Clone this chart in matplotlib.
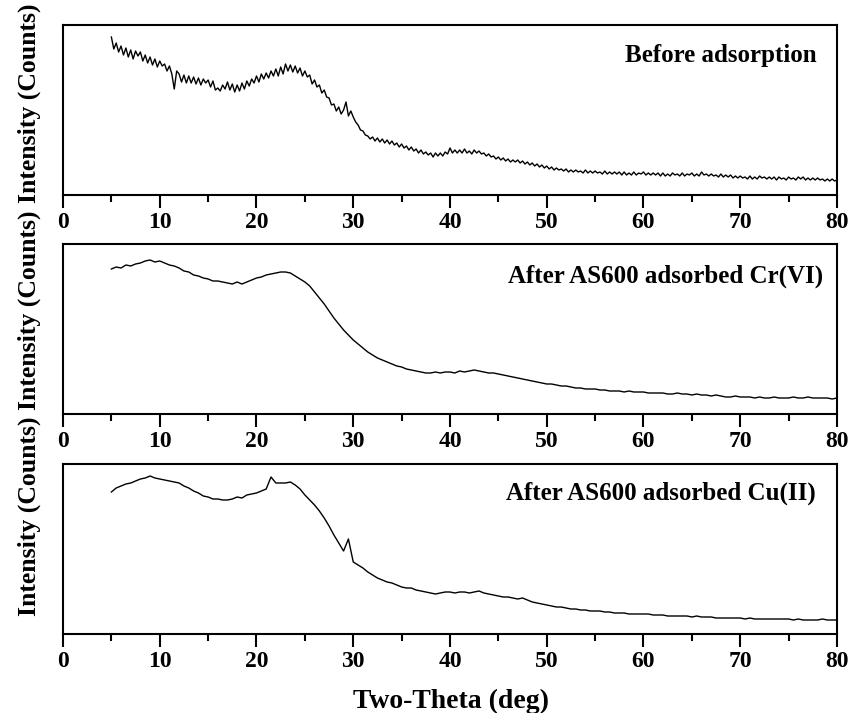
import numpy as np
import matplotlib
matplotlib.use("Agg")
import matplotlib.pyplot as plt
from matplotlib.ticker import MultipleLocator

plt.rcParams["font.family"] = ["Liberation Serif", "DejaVu Serif"]
plt.rcParams["font.weight"] = "bold"

# intensity (arbitrary units, axis spans 0..170)
two_theta_fine = np.linspace(5, 80, 301)   # 0.25 deg steps
two_theta = np.linspace(5, 80, 151)        # 0.5 deg steps

before = [
    158, 146, 152, 143, 149, 140, 147, 138, 145, 136, 144, 139, 143, 134, 140, 132,
    138, 130, 136, 128, 134, 129, 131, 124, 129, 121, 106, 124, 121, 113, 120, 112,
    119, 112, 118, 111, 117, 110, 116, 112, 115, 108, 114, 105, 107, 104, 110, 106,
    113, 105, 111, 103, 110, 104, 112, 106, 114, 109, 116, 112, 119, 113, 121, 116,
    122, 117, 124, 119, 126, 119, 128, 121, 131, 124, 130, 123, 129, 122, 127, 119,
    124, 118, 120, 111, 115, 108, 110, 102, 105, 98, 97, 90, 91, 84, 88, 81,
    85, 93, 79, 84, 78, 73, 70, 65, 64, 60, 59, 56, 58, 54, 57, 53,
    56, 52, 55, 51, 54, 50, 52, 48, 51, 47, 49, 45, 48, 44, 46, 42,
    45, 41, 43, 40, 42, 38, 42, 39, 42, 39, 43, 41, 47, 42, 45, 42,
    45, 42, 46, 42, 44, 41, 45, 42, 44, 41, 42, 39, 41, 38, 39, 36,
    38, 35, 37, 34, 36, 33, 35, 33, 35, 32, 34, 31, 33, 30, 32, 29,
    31, 28, 30, 27, 29, 26, 28, 25, 27, 25, 26, 24, 26, 23, 25, 23,
    25, 23, 24, 22, 25, 22, 24, 22, 24, 22, 23, 21, 24, 21, 23, 21,
    23, 21, 23, 20, 23, 20, 22, 20, 23, 20, 22, 21, 23, 20, 22, 20,
    22, 20, 22, 19, 22, 19, 21, 19, 22, 20, 21, 19, 22, 19, 21, 20,
    22, 19, 21, 19, 23, 20, 21, 19, 21, 19, 20, 18, 21, 18, 20, 18,
    20, 17, 19, 17, 19, 17, 18, 16, 19, 16, 18, 16, 19, 17, 18, 16,
    18, 16, 18, 15, 18, 16, 17, 15, 18, 16, 17, 15, 18, 16, 18, 15,
    17, 15, 17, 15, 17, 15, 16, 14, 16, 14, 16, 14, 15,
]

after_cr = [
    145, 147, 146, 149, 148, 150, 151, 153, 154, 152, 153, 151, 149, 148, 146, 143,
    142, 139, 138, 136, 135, 133, 133, 132, 131, 130, 132, 130, 132, 134, 136, 137,
    139, 140, 141, 142, 142, 141, 138, 135, 132, 128, 122, 116, 110, 103, 96, 90,
    84, 79, 74, 70, 66, 62, 59, 56, 54, 52, 50, 48, 47, 45, 44, 43,
    42, 41, 41, 42, 41, 42, 42, 41, 43, 42, 43, 44, 43, 42, 41, 41,
    40, 39, 38, 37, 36, 35, 34, 33, 32, 31, 30, 30, 29, 28, 28, 27,
    26, 26, 25, 25, 25, 24, 24, 23, 23, 23, 22, 23, 22, 22, 22, 21,
    21, 21, 21, 20, 20, 21, 20, 20, 19, 20, 19, 19, 18, 19, 18, 17,
    17, 18, 17, 17, 17, 16, 17, 16, 16, 17, 16, 16, 16, 17, 16, 16,
    17, 16, 16, 16, 16, 15, 16,
]

after_cu = [
    142, 146, 148, 150, 151, 153, 155, 156, 158, 156, 155, 154, 153, 152, 151, 148,
    146, 143, 141, 138, 137, 135, 135, 134, 134, 135, 137, 136, 139, 140, 141, 143,
    145, 157, 151, 151, 151, 152, 149, 145, 139, 134, 129, 123, 116, 108, 99, 91,
    83, 95, 72, 69, 66, 62, 59, 56, 54, 52, 51, 49, 47, 46, 46, 44,
    43, 42, 41, 40, 41, 42, 42, 41, 42, 42, 41, 42, 43, 41, 40, 39,
    38, 37, 37, 36, 35, 36, 34, 32, 31, 30, 29, 28, 27, 27, 26, 25,
    25, 24, 24, 23, 23, 23, 22, 22, 21, 21, 21, 20, 20, 20, 20, 20,
    19, 19, 19, 18, 18, 18, 18, 18, 17, 18, 17, 17, 17, 16, 16, 16,
    16, 16, 16, 15, 16, 15, 15, 15, 15, 15, 15, 15, 15, 14, 15, 14,
    14, 14, 14, 15, 14, 14, 14,
]

panels = [
    (two_theta_fine, before, "Before adsorption", 0.974, 0.782),
    (two_theta, after_cr, "After AS600 adsorbed Cr(VI)", 0.982, 0.776),
    (two_theta, after_cu, "After AS600 adsorbed Cu(II)", 0.973, 0.788),
]

W, H = 862, 713
fig = plt.figure(figsize=(W / 100, H / 100), dpi=100)

ax_tops = [25, 244, 464]
label_centers = [103, 310, 516]
for (x, y, name, tx, ty), top, lc in zip(panels, ax_tops, label_centers):
    ax = fig.add_axes([63 / W, 1 - (top + 170) / H, 774 / W, 170 / H])
    ax.plot(x, y, color="black", lw=1.0)
    ax.set_xlim(0, 80)
    ax.set_ylim(0, 170)
    ax.xaxis.set_major_locator(MultipleLocator(10))
    ax.xaxis.set_minor_locator(MultipleLocator(5))
    ax.tick_params(axis="x", which="major", direction="out", length=9, width=1.5,
                   labelsize=17, pad=3)
    ax.tick_params(axis="x", which="minor", direction="out", length=5, width=1.5)
    ax.tick_params(axis="y", left=False, labelleft=False)
    for lab in ax.get_xticklabels():
        lab.set_fontweight("bold")
    for sp in ax.spines.values():
        sp.set_linewidth(1.5)
    ax.text(tx, ty, name, transform=ax.transAxes, ha="right", va="baseline",
            fontsize=18, fontweight="bold")
    fig.text(29 / W, 1 - lc / H, "Intensity (Counts)", rotation=90,
             ha="center", va="center", fontsize=18.5, fontweight="bold")

fig.text(451 / W, 1 - 708 / H, "Two-Theta (deg)", ha="center", va="baseline",
         fontsize=20, fontweight="bold")

fig.savefig("out.png", dpi=100)
